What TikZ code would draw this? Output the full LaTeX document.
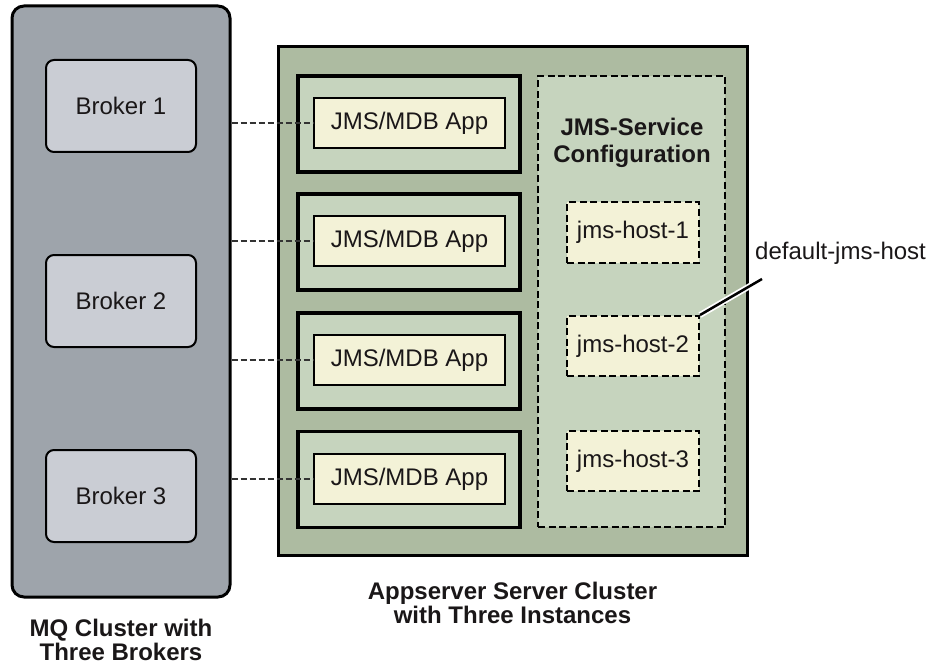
\documentclass[tikz,border=0pt]{standalone}
\usepackage{fontspec}
\setmainfont{Liberation Sans}
\begin{document}
\begin{tikzpicture}[x=1pt,y=-1pt,
  every node/.style={text=txt, font=\fontsize{24}{25}\selectfont, inner sep=0pt},
  mqbox/.style={draw=black, line width=3pt, fill=mqgray, rounded corners=12pt},
  brokerbox/.style={draw=black, line width=2pt, fill=brokergray, rounded corners=8pt, minimum width=150pt, minimum height=92pt},
  asbox/.style={draw=black, line width=3pt, fill=asgreen},
  instbox/.style={draw=black, line width=3.5pt, fill=lightgreen, minimum width=222pt, minimum height=96pt},
  appbox/.style={draw=black, line width=2pt, fill=cream, minimum width=191pt, minimum height=50pt},
  cfgbox/.style={draw=black, line width=2pt, fill=lightgreen, dash pattern=on 7pt off 3.5pt},
  hostbox/.style={draw=black, line width=2pt, fill=cream, dash pattern=on 7pt off 3.5pt, minimum width=132pt, minimum height=60pt},
  conn/.style={draw=connc, line width=2pt, dash pattern=on 6pt off 3pt},
  boldlabel/.style={font=\bfseries\fontsize{24}{23.5}\selectfont, align=center}
]
\definecolor{txt}{HTML}{1A1718}
\definecolor{mqgray}{HTML}{9EA4AB}
\definecolor{brokergray}{HTML}{CACDD4}
\definecolor{asgreen}{HTML}{ADBBA1}
\definecolor{lightgreen}{HTML}{C6D4BE}
\definecolor{cream}{HTML}{F3F2D7}
\definecolor{connc}{HTML}{333333}
\useasboundingbox (0,0) rectangle (935,666);

% MQ cluster
\node[mqbox, minimum width=218pt, minimum height=591pt] (mq) at (121,301.5) {};
\node[brokerbox] (b1) at (121,106) {Broker 1};
\node[brokerbox] (b2) at (121,301) {Broker 2};
\node[brokerbox] (b3) at (121,496) {Broker 3};

% Appserver cluster
\node[asbox, minimum width=469pt, minimum height=508pt] (as) at (512.5,301) {};
\node[instbox] (i1) at (409,124) {};
\node[instbox] (i2) at (409,242) {};
\node[instbox] (i3) at (409,361) {};
\node[instbox] (i4) at (409,479.5) {};
\node[appbox] (a1) at (409.5,123) {JMS/MDB App};
\node[appbox] (a2) at (409.5,241) {JMS/MDB App};
\node[appbox] (a3) at (409.5,360) {JMS/MDB App};
\node[appbox] (a4) at (409.5,479) {JMS/MDB App};

% JMS service configuration
\node[cfgbox, minimum width=187pt, minimum height=451pt] (cfg) at (631.5,301.5) {};
\node[boldlabel, font=\bfseries\fontsize{24}{27}\selectfont] (cfgt) at (632,142.5) {JMS-Service\\Configuration};
\node[hostbox] (h1) at (633,232.5) {jms-host-1};
\node[hostbox] (h2) at (633,346) {jms-host-2};
\node[hostbox] (h3) at (633,461) {jms-host-3};

% connectors
\draw[conn] (mq.east |- a1.west) -- (a1.west);
\draw[conn] (mq.east |- a2.west) -- (a2.west);
\draw[conn] (mq.east |- a3.west) -- (a3.west);
\draw[conn] (mq.east |- a4.west) -- (a4.west);

% default-jms-host label and leader
\node[anchor=base west] (dlabel) at (755,259) {default-jms-host};
\coordinate (lend) at (762,279);
\draw[white, line width=6pt] (h2.north east) -- (lend);
\draw[black, line width=2.5pt] (h2.north east) -- (lend);

% bottom labels
\node[boldlabel] (mqlabel) at (121,640) {MQ Cluster with\\Three Brokers};
\node[boldlabel] (aslabel) at (512.5,603) {Appserver Server Cluster\\with Three Instances};
\end{tikzpicture}
\end{document}
